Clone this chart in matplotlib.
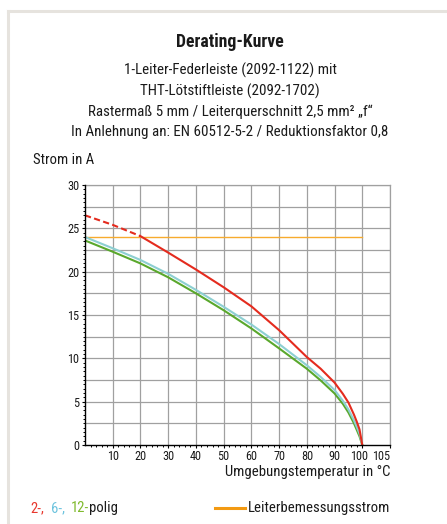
import numpy as np
import matplotlib
matplotlib.use("Agg")
import matplotlib.pyplot as plt
from matplotlib import font_manager
from matplotlib.lines import Line2D
from matplotlib.transforms import ScaledTranslation

# ---- data ----
temps = [0, 10, 20, 30, 40, 50, 60, 70, 80, 85, 90, 93, 95, 97, 98, 99, 100]
pol2 = [26.5, 25.4, 24.1, 22.2, 20.25, 18.2, 16.0, 13.25, 10.15, 8.8, 7.2, 5.9, 4.9, 3.5, 2.7, 1.8, 0]
pol6 = [24.0, 22.7, 21.35, 19.75, 17.9, 15.95, 13.9, 11.65, 9.2, 7.85, 6.35, 5.1, 4.1, 2.85, 2.1, 1.3, 0]
pol12 = [23.6, 22.3, 20.95, 19.35, 17.5, 15.55, 13.45, 11.15, 8.8, 7.45, 5.95, 4.75, 3.75, 2.5, 1.75, 1.0, 0]
rated_x = [0, 100]
rated_y = [24, 24]
dash_limit = 20
x_ticks = [10, 20, 30, 40, 50, 60, 70, 80, 90, 100, 105]
y_ticks = [0, 5, 10, 15, 20, 25, 30]

title = "Derating-Kurve"
subtitle = ["1-Leiter-Federleiste (2092-1122) mit",
            "THT-Lötstiftleiste (2092-1702)",
            "Rastermaß 5 mm / Leiterquerschnitt 2,5 mm² „f“",
            "In Anlehnung an: EN 60512-5-2 / Reduktionsfaktor 0,8"]
ylabel = "Strom in A"
xlabel = "Umgebungstemperatur in °C"
legend_parts = ["2-,", "6-,", "12-", "polig"]
legend_rated = "Leiterbemessungsstrom"

# ---- font ----
avail = {f.name for f in font_manager.fontManager.ttflist}
fam = None
for cand in ["Roboto Condensed", "Liberation Sans Narrow", "Roboto", "DejaVu Sans"]:
    if cand in avail:
        fam = cand
        break
plt.rcParams['font.family'] = [fam, 'DejaVu Sans']

W, H = 447, 524
fig = plt.figure(figsize=(W / 100, H / 100), dpi=100)

# outer light border
fig.add_artist(Line2D([8 / W, 8 / W], [0, 1 - 11 / H], transform=fig.transFigure,
                      color='#e6e3de', lw=2.2))
fig.add_artist(Line2D([8 / W, 1], [1 - 11 / H, 1 - 11 / H], transform=fig.transFigure,
                      color='#e6e3de', lw=2.2))

L, R, T, B = 85, 390, 185, 445
ax = fig.add_axes([L / W, 1 - B / H, (R - L) / W, (B - T) / H])


def fwd(x):
    x = np.asarray(x, dtype=float)
    return np.where(x <= 100, x, 100 + 2 * (x - 100))


def inv(u):
    u = np.asarray(u, dtype=float)
    return np.where(u <= 100, u, 100 + (u - 100) / 2)


ax.set_xscale('function', functions=(fwd, inv))
ax.set_xlim(0, 105)
ax.set_ylim(0, 30)

# grid
gcol = '#a0a0a0'
for yv in np.arange(2.5, 30.01, 2.5):
    ax.axhline(yv, color=gcol, lw=0.9, zorder=1)
for xv in x_ticks:
    ax.axvline(xv, color=gcol, lw=0.9, zorder=1)

# curves
t = np.array(temps)
r = np.array(pol2)
m_d = t <= dash_limit
m_s = t >= dash_limit
ax.plot(t[m_d], r[m_d], color='#e42b1e', lw=1.5, ls=(0, (3, 1.6)), zorder=4)
ax.plot(t[m_s], r[m_s], color='#e42b1e', lw=1.5, zorder=4)
ax.plot(temps, pol6, color='#8dcfd2', lw=1.5, zorder=3)
ax.plot(temps, pol12, color='#5aa82c', lw=1.5, zorder=2.9)
ax.plot(rated_x, rated_y, color='#f7ab2e', lw=1.0, zorder=2.5)

for s in ['top', 'right']:
    ax.spines[s].set_color(gcol)
    ax.spines[s].set_linewidth(0.9)
for s in ['left', 'bottom']:
    ax.spines[s].set_color('black')
    ax.spines[s].set_linewidth(1.0)
    ax.spines[s].set_zorder(5)

ax.set_xticks(x_ticks)
ax.set_xticklabels([str(v) for v in x_ticks])
ax.set_xticks(np.arange(2, 100, 2), minor=True)
ax.set_yticks(y_ticks)
ax.set_yticklabels([str(v) for v in y_ticks])
ax.set_yticks(np.arange(0.5, 30, 0.5), minor=True)
ax.tick_params(axis='both', which='major', length=2.5, width=0.8, color='black',
               labelsize=8.8, labelcolor='#1a1a1a')
ax.tick_params(axis='x', which='major', pad=0.8)
ax.tick_params(axis='y', which='major', pad=1.5)
ax.tick_params(axis='both', which='minor', length=1.5, width=0.7, color='black')
ax.tick_params(axis='x', which='both', top=False)
ax.tick_params(axis='y', which='both', right=False)
for lab in ax.get_xticklabels():
    if lab.get_text() == '105':
        lab.set_horizontalalignment('right')
    if lab.get_text() == '100':
        lab.set_transform(lab.get_transform() + ScaledTranslation(-3 / 100, 0, fig.dpi_scale_trans))

# texts
FS = 10.8
cx = 230 / W
fig.text(cx, 1 - 42 / H, title, ha='center', va='center', fontsize=12.8,
         fontweight='bold', color='#1a1a1a')
for i, line in enumerate(subtitle):
    fig.text(cx, 1 - (70.5 + 20.6 * i) / H, line, ha='center', va='center',
             fontsize=FS, color='#1a1a1a')
fig.text(33 / W, 1 - 160 / H, ylabel, ha='left', va='center', fontsize=FS - 0.2,
         color='#1a1a1a')
fig.text(390 / W, 1 - 472 / H, xlabel, ha='right', va='center', fontsize=FS - 0.2,
         color='#1a1a1a')

# legend
LFS = FS - 0.2
yleg = 1 - 508 / H
cols = ['#e8382e', '#6cc3de', '#80ba2d', '#1a1a1a']
xpos = [30, 51, 71, None]
fig.canvas.draw()
rend = fig.canvas.get_renderer()
prev_end = None
for txt, col, xp in zip(legend_parts, cols, xpos):
    xx = xp if xp is not None else prev_end
    tt = fig.text(xx / W, yleg, txt, ha='left', va='center', fontsize=LFS, color=col)
    prev_end = xx + tt.get_window_extent(renderer=rend).width
fig.add_artist(Line2D([215 / W, 245 / W], [yleg, yleg], transform=fig.transFigure,
                      color='#f39a12', lw=2.2))
fig.text(390 / W, yleg, legend_rated, ha='right', va='center',
         fontsize=LFS, color='#1a1a1a')

fig.savefig("out.png", dpi=100)
